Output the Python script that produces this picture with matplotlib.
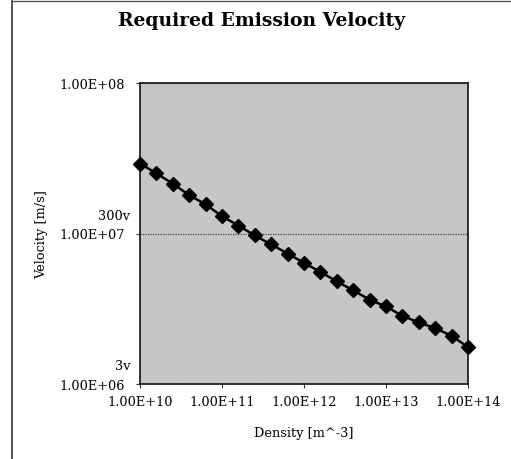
import matplotlib
matplotlib.use("Agg")
import matplotlib.pyplot as plt
from matplotlib.lines import Line2D
import numpy as np

# Data
density = [1.00e10, 1.58e10, 2.51e10, 3.98e10, 6.31e10,
           1.00e11, 1.58e11, 2.51e11, 3.98e11, 6.31e11,
           1.00e12, 1.58e12, 2.51e12, 3.98e12, 6.31e12,
           1.00e13, 1.58e13, 2.51e13, 3.98e13, 6.31e13,
           1.00e14]
log_velocity = [7.465, 7.400, 7.331, 7.255, 7.193,
                7.115, 7.053, 6.987, 6.927, 6.867,
                6.805, 6.745, 6.682, 6.622, 6.560,
                6.515, 6.453, 6.409, 6.371, 6.320,
                6.245]
velocity = [10 ** v for v in log_velocity]

x_ticks = [1e10, 1e11, 1e12, 1e13, 1e14]
x_ticklabels = ["1.00E+10", "1.00E+11", "1.00E+12", "1.00E+13", "1.00E+14"]
y_ticks = [1e6, 1e7, 1e8]
y_ticklabels = ["1.00E+06", "1.00E+07", "1.00E+08"]
ref_labels = ["300v", "3v"]
ref_levels = [1e7, 1e6]

serif = ["DejaVu Serif"]
fs = 9.3

fig = plt.figure(figsize=(5.11, 4.60), dpi=100)
fig.patch.set_facecolor("white")
ax = fig.add_axes([140/511, 1-385/460, (468-140)/511, (385-84)/460])
ax.set_facecolor("#c6c6c6")
ax.set_xscale("log")
ax.set_yscale("log")
ax.set_xlim(1e10, 1e14)
ax.set_ylim(1e6, 1e8)

ax.plot(density, velocity, color="black", lw=1.8, marker="D", markersize=7.5,
        markerfacecolor="black", markeredgecolor="black", clip_on=False, zorder=3)

ax.set_xticks(x_ticks)
ax.set_xticklabels(x_ticklabels, fontfamily=serif, fontsize=fs)
ax.set_yticks(y_ticks)
ax.set_yticklabels(y_ticklabels, fontfamily=serif, fontsize=fs)
ax.minorticks_off()
ax.tick_params(axis="both", direction="out", length=3, width=0.8, color="#333333")
ax.tick_params(axis="y", pad=8)
ax.tick_params(axis="x", pad=5)

ax.yaxis.grid(True, color="#444444", linestyle=(0, (1, 1)), linewidth=0.9)
ax.xaxis.grid(False)

for s in ax.spines.values():
    s.set_color("#222222")
    s.set_linewidth(1.3)

for lab, lev in zip(ref_labels, ref_levels):
    ax.annotate(lab, xy=(0, lev), xycoords=("axes fraction", "data"),
                xytext=(-7, 13), textcoords="offset points",
                ha="right", va="center", fontfamily=serif, fontsize=fs)

ax.set_xlabel("Density [m^-3]", fontfamily=serif, fontsize=fs, labelpad=13)
ax.set_ylabel("Velocity [m/s]", fontfamily=serif, fontsize=fs, labelpad=8)

fig.text(262/511, 1-21/460, "Required Emission Velocity", ha="center", va="center",
         fontfamily=serif, fontweight="bold", fontsize=13.5)

# outer chart border (left and top)
fig.add_artist(Line2D([12/511, 12/511], [0, 1-2/460], color="#333333", lw=1.2))
fig.add_artist(Line2D([12/511, 1], [1-2/460, 1-2/460], color="#555555", lw=1.0))

fig.savefig("out.png", dpi=100)
